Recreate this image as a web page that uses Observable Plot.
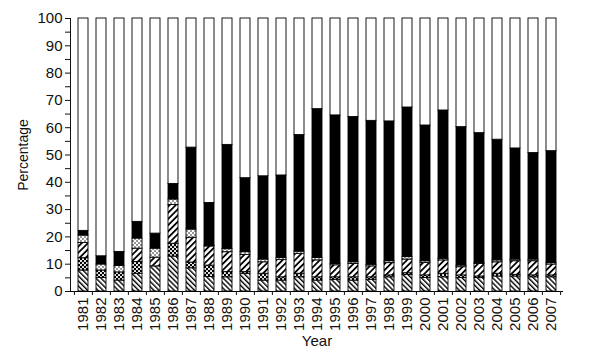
<!DOCTYPE html>
<html><head><meta charset="utf-8">
<script src="https://cdn.jsdelivr.net/npm/d3@7"></script>
<script src="https://cdn.jsdelivr.net/npm/@observablehq/plot@0.6"></script>
<style>body{margin:0;background:#fff} #chart{width:602px;height:357px}
#chart svg g[aria-label="y-axis tick label"] text, #chart svg g[aria-label="x-axis tick label"] text {font-size:15px}</style>
</head><body><div id="chart"></div>
<script>
const years = ["1981","1982","1983","1984","1985","1986","1987","1988","1989","1990","1991","1992","1993","1994","1995","1996","1997","1998","1999","2000","2001","2002","2003","2004","2005","2006","2007"];
// bottom to top layers (percent)
const hatchBack = [7.7,5.0,4.0,6.5,9.2,12.8,8.5,5.3,5.2,6.5,4.0,4.0,5.2,4.0,4.3,4.0,4.3,5.2,6.1,5.0,5.2,5.0,4.9,5.5,5.5,5.2,5.2];
const checker   = [4.5,2.7,3.0,4.3,0.0,4.7,2.1,4.2,1.9,0.6,2.5,1.2,1.3,1.2,0.9,1.2,0.9,0.7,0.6,0.9,1.3,0.9,0.6,1.0,0.6,0.7,0.7];
const hatchFwd  = [5.6,0.0,0.0,4.9,3.2,14.2,9.1,7.0,7.3,6.3,4.2,6.4,7.3,6.2,4.4,4.9,4.0,4.5,5.0,4.6,4.9,3.0,4.6,4.2,5.0,5.2,4.0];
const dots      = [2.7,2.2,2.4,3.7,3.3,2.0,3.0,0.3,1.1,1.0,1.0,0.7,0.8,0.9,0.5,0.6,0.6,0.7,0.9,0.6,0.6,0.6,0.4,0.7,0.6,0.6,0.6];
const solid     = [1.7,3.0,5.1,6.1,5.5,5.7,30.0,15.6,38.2,27.1,30.5,30.2,42.7,54.5,54.4,53.2,52.7,51.2,54.8,49.7,54.3,50.7,47.5,44.2,40.7,39.0,40.9];
const yTicks = [0,5,10,15,20,25,30,35,40,45,50,55,60,65,70,75,80,85,90,95,100];

const layers = ["hatchBack","checker","hatchFwd","dots","solid","open"];
const fills = ["url(#pBack)","url(#pCheck)","url(#pFwd)","url(#pDots)","#000000","#ffffff"];
const series = {hatchBack, checker, hatchFwd, dots, solid};
const rows = [];
years.forEach((yr, i) => {
  let sum = 0;
  for (const k of layers.slice(0,5)) { rows.push({year: yr, layer: k, value: series[k][i]}); sum += series[k][i]; }
  rows.push({year: yr, layer: "open", value: 100 - sum});
});

const svg = Plot.plot({
  width: 602, height: 357,
  marginLeft: 70, marginRight: 39, marginTop: 18, marginBottom: 66,
  style: {fontFamily: "'Liberation Sans', Arial, sans-serif", fontSize: "14px", background: "#fff", color: "#111"},
  x: {type: "band", domain: years, paddingInner: 0.45, paddingOuter: 0.25},
  y: {domain: [0,100], ticks: yTicks, tickFormat: d => d % 10 === 0 ? String(d) : "", tickSize: 5, tickPadding: 3,
      line: true, label: "Percentage", labelAnchor: "center", labelOffset: 52, labelArrow: "none"},
  color: {domain: layers, range: fills},
  marks: [
    Plot.barY(rows, {x: "year", y: "value", fill: "layer", z: "layer", order: layers, stroke: "#000", strokeWidth: 0.9}),
    Plot.ruleY([0], {stroke: "#000"}),
    Plot.axisX({tickSize: 0, tickRotate: -90, tickPadding: 6, fontSize: 15, label: "Year", labelAnchor: "center", labelOffset: 54, labelArrow: "none"}),
    Plot.axisX({text: null, tickSize: 4, dx: -9.1, label: null}),
    Plot.axisX(["2007"], {text: null, tickSize: 4, dx: 9.1, label: null})
  ]
});

const defs = d3.select(svg).insert("defs", ":first-child");
function stripes(id, size, w, angle) {
  const p = defs.append("pattern").attr("id", id).attr("patternUnits", "userSpaceOnUse")
    .attr("width", size).attr("height", size).attr("patternTransform", `rotate(${angle})`);
  p.append("rect").attr("width", size).attr("height", size).attr("fill", "#fff");
  p.append("rect").attr("width", w).attr("height", size).attr("fill", "#000");
}
stripes("pBack", 3.6, 1.4, -45);
stripes("pFwd", 4.4, 1.8, 45);
{
  const p = defs.append("pattern").attr("id", "pCheck").attr("patternUnits", "userSpaceOnUse").attr("width", 4).attr("height", 4);
  p.append("rect").attr("width", 4).attr("height", 4).attr("fill", "#000");
  p.append("circle").attr("cx", 1).attr("cy", 1).attr("r", 1.05).attr("fill", "#fff");
  p.append("circle").attr("cx", 3).attr("cy", 3).attr("r", 1.05).attr("fill", "#fff");
}
{
  const p = defs.append("pattern").attr("id", "pDots").attr("patternUnits", "userSpaceOnUse").attr("width", 4).attr("height", 4);
  p.append("rect").attr("width", 4).attr("height", 4).attr("fill", "#fff");
  p.append("circle").attr("cx", 1).attr("cy", 1).attr("r", 0.75).attr("fill", "#000");
  p.append("circle").attr("cx", 3).attr("cy", 3).attr("r", 0.75).attr("fill", "#000");
}
document.getElementById("chart").appendChild(svg);
</script>
</body></html>
